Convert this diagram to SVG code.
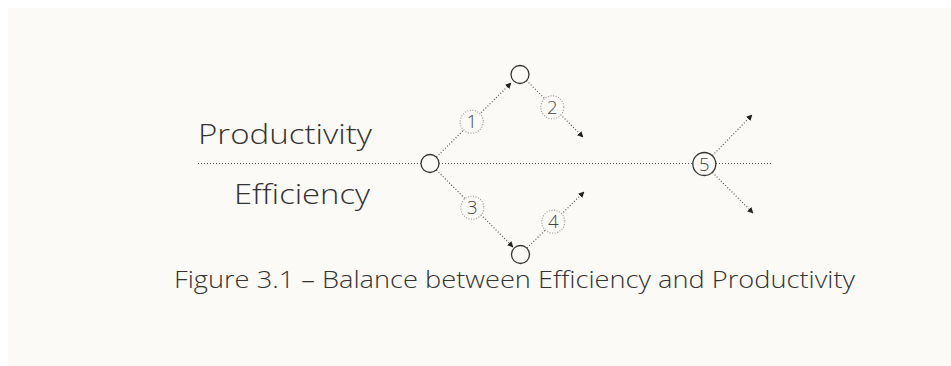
<svg xmlns="http://www.w3.org/2000/svg" width="951" height="366" viewBox="0 0 951 366">
<style>
.lbl{font-family:"Open Sans","Liberation Sans",sans-serif;font-weight:300;fill:#333}
.node{fill:#fbfaf6;stroke:#333;stroke-width:1.3}
.tag{fill:#fbfaf6;stroke:#9a9a9a;stroke-width:1.2;stroke-dasharray:1 1.6}
.num{font-family:"Open Sans","Liberation Sans",sans-serif;font-weight:300;font-size:18.5px;fill:#444;text-anchor:middle}
.ln{stroke:#555;stroke-width:1.2;stroke-dasharray:1 2;fill:none}
.arr{stroke:#555;stroke-width:1.2;stroke-dasharray:1 2;fill:none;marker-end:url(#ah)}
</style>
<defs>
<marker id="ah" viewBox="0 0 10 10" refX="9" refY="5" markerWidth="6" markerHeight="6" markerUnits="userSpaceOnUse" orient="auto">
<path d="M0,0 L10,5 L0,10 z" fill="#222"/>
</marker>
</defs>
<rect x="0" y="0" width="951" height="366" fill="#ffffff"/>
<rect x="8" y="8" width="943" height="358" fill="#fbfaf6"/>
<g id="connectors">
<line class="ln" x1="198" y1="163.5" x2="421" y2="163.5"/>
<line class="ln" x1="439" y1="163.5" x2="692" y2="163.5"/>
<line class="ln" x1="716" y1="163.5" x2="773" y2="163.5"/>
<line class="arr" x1="436.5" y1="157" x2="511" y2="83"/>
<line class="arr" x1="526.5" y1="80.5" x2="583" y2="137"/>
<line class="arr" x1="436.5" y1="170" x2="513" y2="247"/>
<line class="arr" x1="527" y1="248" x2="584" y2="192"/>
<line class="arr" x1="712.5" y1="155.5" x2="752" y2="115"/>
<line class="arr" x1="712.5" y1="172.5" x2="753" y2="213"/>
</g>
<g id="node-A"><circle class="node" cx="430" cy="163.5" r="9"/></g>
<g id="node-top"><circle class="node" cx="520" cy="74.5" r="9"/></g>
<g id="node-bottom"><circle class="node" cx="520.5" cy="254.5" r="9"/></g>
<g id="node-5"><circle class="node" cx="704.3" cy="164" r="11.5"/><text class="num" x="704.3" y="170.6">5</text></g>
<g id="tag-1"><circle class="tag" cx="471.7" cy="121.7" r="11.5"/><text class="num" x="471.7" y="128.3">1</text></g>
<g id="tag-2"><circle class="tag" cx="552.3" cy="107.3" r="11.5"/><text class="num" x="552.3" y="113.9">2</text></g>
<g id="tag-3"><circle class="tag" cx="472.3" cy="207.7" r="11.5"/><text class="num" x="472.3" y="214.3">3</text></g>
<g id="tag-4"><circle class="tag" cx="553.3" cy="221.7" r="11.5"/><text class="num" x="553.3" y="228.3">4</text></g>
<g id="label-productivity"><text class="lbl" x="198" y="144" font-size="27" textLength="174" lengthAdjust="spacingAndGlyphs">Productivity</text></g>
<g id="label-efficiency"><text class="lbl" x="234" y="204" font-size="27" textLength="136" lengthAdjust="spacingAndGlyphs">Efficiency</text></g>
<g id="caption"><text class="lbl" x="174" y="288" font-size="24.5" textLength="681" lengthAdjust="spacingAndGlyphs">Figure 3.1 – Balance between Efficiency and Productivity</text></g>
</svg>
